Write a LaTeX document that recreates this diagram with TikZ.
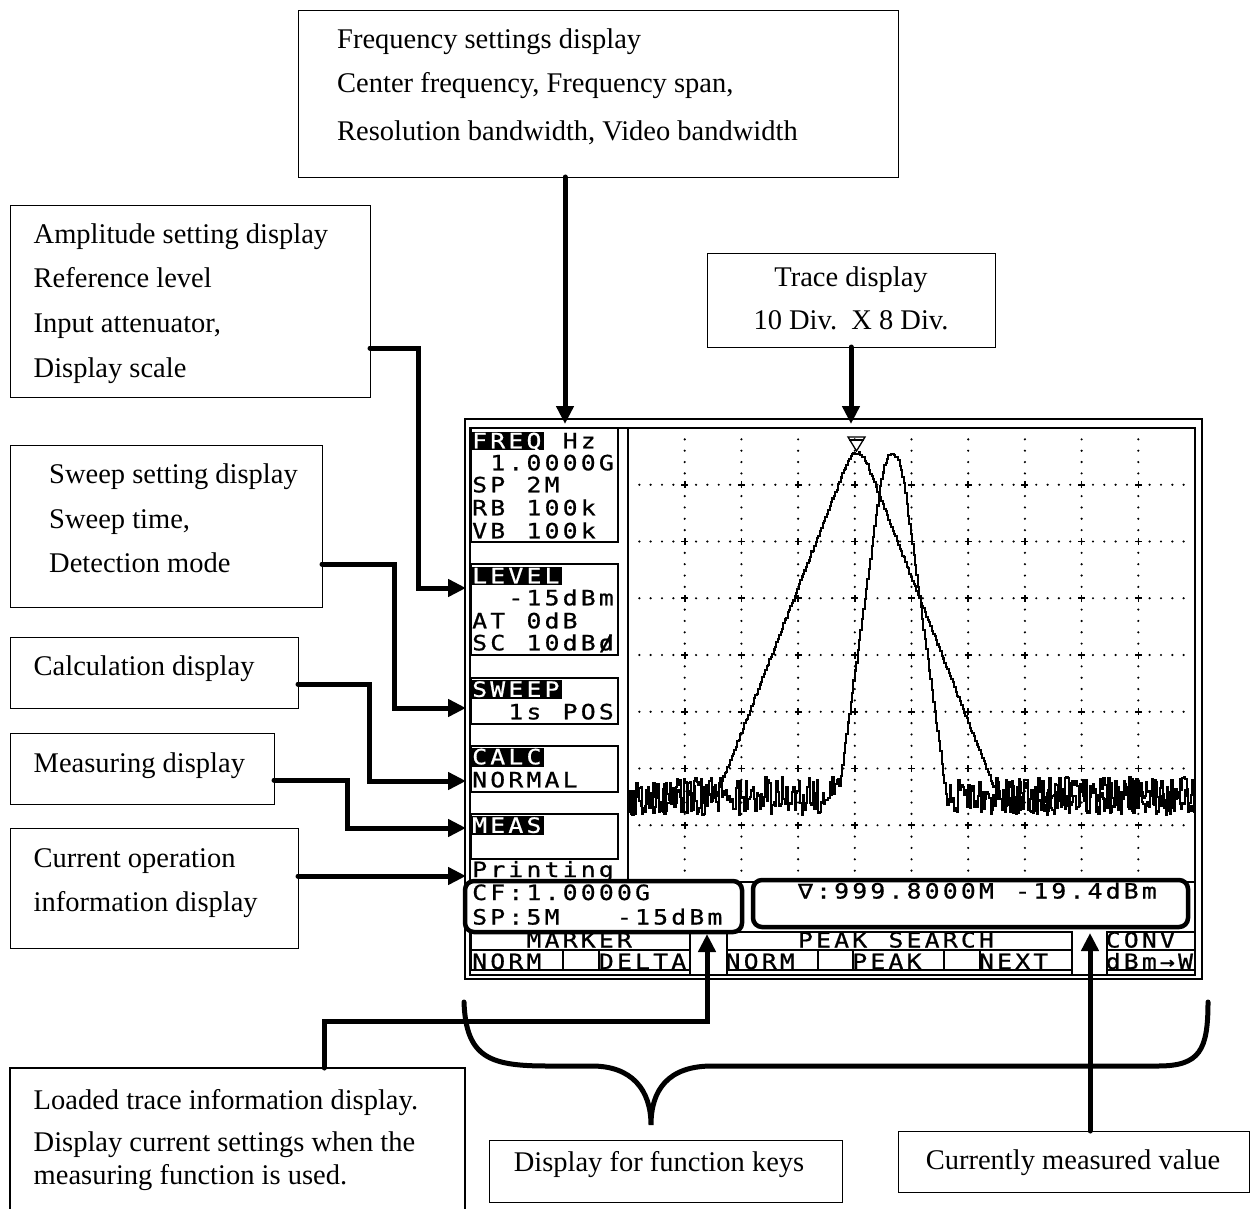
\documentclass[tikz,border=0pt]{standalone}
\usepackage{fontspec}
\setmainfont{Liberation Serif}
\newfontfamily\lcdfont[FakeStretch=1.18,FakeBold=0.8]{DejaVu Sans Mono}
\usetikzlibrary{arrows.meta}
\makeatletter
\def\lcdstr#1{\lcd@loop#1\relax}
\def\lcd@loop#1{\ifx\relax#1\else\makebox[18.1pt][l]{#1}\expandafter\lcd@loop\fi}
\makeatother
\begin{document}
\begin{tikzpicture}[x=1pt,y=-1pt,
  cbox/.style={draw,line width=1.3pt,anchor=north west,inner sep=0pt},
  txt/.style={anchor=base west,inner sep=0pt,font=\fontsize{28.5}{34}\selectfont},
  ctxt/.style={anchor=base,inner sep=0pt,font=\fontsize{28.5}{34}\selectfont},
  lcd/.style={anchor=base west,inner sep=0pt,font=\lcdfont\fontsize{21}{21}\selectfont},
  inv/.style={lcd,text=white},
  conn/.style={line width=5pt,line cap=round,-{Triangle[length=18pt,width=17pt]}},
  frm/.style={line width=1.5pt},
  cell/.style={line width=1.3pt},
  trc/.style={line width=2.1pt,line join=miter},
  rbox/.style={line width=4.5pt,rounded corners=9pt},
  declare function={
    hA(\w)=0.1084*min(\w,11.76)^2+2.55*max(\w-11.76,0);
    hB(\w)=32*(min(\w,12)/12)^2+7.4*max(\w-12,0);
    trA(\x)=min(453+hA(abs(\x-856.5))+1.5*rand,796+19*rand);
    trB(\x)=min(453+hB(abs(\x-892))+1.5*rand,796+19*rand);
  }
]
\useasboundingbox (0,0) rectangle (1252,1209);
\fill[white] (0,0) rectangle (1252,1209);

% ---------------- callout boxes ----------------
\node[cbox,minimum width=600pt,minimum height=167pt] (freqbox) at (298,10) {};
\node[txt] (freqt1) at (337,48.5) {Frequency settings display};
\node[txt] (freqt2) at (337,92.5) {Center frequency, Frequency span,};
\node[txt] (freqt3) at (337,140.5) {Resolution bandwidth, Video bandwidth};

\node[cbox,minimum width=360pt,minimum height=192pt] (ampbox) at (10,205) {};
\node[txt] (ampt1) at (33.5,243) {Amplitude setting display};
\node[txt] (ampt2) at (33.5,287) {Reference level};
\node[txt] (ampt3) at (33.5,332) {Input attenuator,};
\node[txt] (ampt4) at (33.5,377) {Display scale};

\node[cbox,minimum width=312pt,minimum height=162pt] (swbox) at (10,445) {};
\node[txt] (swt1) at (49,483) {Sweep setting display};
\node[txt] (swt2) at (49,528) {Sweep time,};
\node[txt] (swt3) at (49,572) {Detection mode};

\node[cbox,minimum width=288pt,minimum height=71pt] (calcbox) at (10,637) {};
\node[txt] (calct) at (33.5,675) {Calculation display};

\node[cbox,minimum width=264pt,minimum height=71pt] (measbox) at (10,733) {};
\node[txt] (meast) at (33.5,772) {Measuring display};

\node[cbox,minimum width=288pt,minimum height=120pt] (curbox) at (10,828) {};
\node[txt] (curt1) at (33.5,867) {Current operation};
\node[txt] (curt2) at (33.5,911) {information display};

\node[cbox,minimum width=288pt,minimum height=94pt] (trbox) at (707,253) {};
\node[ctxt] (trt1) at (851,286) {Trace display};
\node[ctxt] (trt2) at (851,329) {10 Div.\ \ X 8 Div.};

\draw[line width=1.3pt] (10,1209) -- (10,1068) -- (465,1068) -- (465,1209);
\node[txt] (ldt1) at (33.5,1109) {Loaded trace information display.};
\node[txt] (ldt2) at (33.5,1151) {Display current settings when the};
\node[txt] (ldt3) at (33.5,1184) {measuring function is used.};

\node[cbox,minimum width=353pt,minimum height=62pt] (fkbox) at (489,1140) {};
\node[ctxt] (fkt) at (659,1171) {Display for function keys};

\node[cbox,minimum width=351pt,minimum height=61pt] (mvbox) at (898,1131) {};
\node[ctxt] (mvt) at (1073,1169) {Currently measured value};

% ---------------- screen frame ----------------
\draw[frm] (465,419) rectangle (1202,979);
\draw[frm] (470,428) rectangle (1195,975);

% grid dots
\foreach \i in {1,...,9}{
  \foreach \k in {1,...,39}{
    \fill ({628+\i*56.7},{428+\k*11.35}) circle (1.2);
  }
}
\foreach \j in {1,...,7}{
  \foreach \k in {1,...,49}{
    \fill ({628+\k*11.34},{428+\j*56.75}) circle (1.2);
  }
}
\foreach \i in {1,...,9}{
  \foreach \j in {1,...,7}{
    \draw[line width=1.6pt] ({628+\i*56.7-3.5},{428+\j*56.75}) -- ++(7,0)
      ({628+\i*56.7},{428+\j*56.75-3.5}) -- ++(0,7);
  }
}
\draw[cell] (628,428) rectangle (1195,882);

% traces
\pgfmathsetseed{20240}
\draw[trc] (628,{trB(628)}) \foreach \x in {629.4,630.8,...,1195}{ -| (\x,{trB(\x)}) };
\draw[trc] (628,{trA(628)}) \foreach \x in {629.4,630.8,...,1195}{ -| (\x,{trA(\x)}) };
% marker
\draw[line width=1.3pt] (848,437) -- (865,437) -- (856.5,451) -- cycle;
\draw[line width=1.3pt] (849,440) -- (864,440);

% left panel boxes
\draw[cell] (471,428) rectangle (618,542);
\draw[cell] (471,564) rectangle (618,655);
\draw[cell] (471,678) rectangle (618,724);
\draw[cell] (471,746) rectangle (618,792);
\draw[cell] (471,814) rectangle (618,859);
\fill (471,432) rectangle (544,450);
\fill (471,567) rectangle (562,585);
\fill (471,680) rectangle (562,699);
\fill (471,748) rectangle (544,767);
\fill (471,816) rectangle (544,835);

\node[inv] (l1) at (472,448.3) {\lcdstr{FREQ}};
\node[lcd] (l2) at (562.5,448.3) {\lcdstr{Hz}};
\node[lcd] (l3) at (490.1,470.3) {\lcdstr{1.0000G}};
\node[lcd] (l4) at (472,492.3) {\lcdstr{SP~2M}};
\node[lcd] (l5) at (472,515.3) {\lcdstr{RB~100k}};
\node[lcd] (l6) at (472,538.3) {\lcdstr{VB~100k}};
\node[inv] (l7) at (472,583.3) {\lcdstr{LEVEL}};
\node[lcd] (l8) at (508.2,605.3) {\lcdstr{-15dBm}};
\node[lcd] (l9) at (472,628.3) {\lcdstr{AT~0dB}};
\node[lcd] (l10) at (472,650.3) {\lcdstr{SC~10dB{\rlap{/}d}}};
\node[inv] (l11) at (472,696.8) {\lcdstr{SWEEP}};
\node[lcd] (l12) at (508.2,719.3) {\lcdstr{1s~POS}};
\node[inv] (l13) at (472,764.3) {\lcdstr{CALC}};
\node[lcd] (l14) at (472,787.3) {\lcdstr{NORMAL}};
\node[inv] (l15) at (472,832.8) {\lcdstr{MEAS}};
\node[lcd] (l16) at (472,877) {\lcdstr{Printing}};

% info boxes
\draw[rbox,fill=white] (465,881) rectangle (742,932);
\draw[rbox,fill=white] (753,880) rectangle (1188,927);
\node[lcd] (l17) at (472,900) {\lcdstr{CF:1.0000G}};
\node[lcd] (l18) at (472,924.5) {\lcdstr{SP:5M~~~-15dBm}};
\node[lcd] (l19) at (797.8,898.5) {\lcdstr{∇:999.8000M~-19.4dBm}};

% function key cells
\draw[cell] (471,932) rectangle (690,950) (727,932) rectangle (1072,950) (1107,932) rectangle (1195,950);
\draw[cell] (471,950) rectangle (690,970) (727,950) rectangle (1072,970) (1107,950) rectangle (1195,970);
\foreach \xx in {563,599,818,853,944,980}{ \draw[cell] (\xx,950) -- (\xx,970); }
\draw[cell] (690,932) -- (690,975) (727,932) -- (727,975) (1072,932) -- (1072,975) (1107,932) -- (1107,975);
\node[lcd] (k1) at (526.3,947.5) {\lcdstr{MARKER}};
\node[lcd] (k2) at (797.8,947.5) {\lcdstr{PEAK~SEARCH}};
\node[lcd] (k3) at (1105.5,947.5) {\lcdstr{CONV}};
\node[lcd] (k4) at (472,969) {\lcdstr{NORM}};
\node[lcd] (k5) at (598.7,969) {\lcdstr{DELTA}};
\node[lcd] (k6) at (725.4,969) {\lcdstr{NORM}};
\node[lcd] (k7) at (852.1,969) {\lcdstr{PEAK}};
\node[lcd] (k8) at (978.8,969) {\lcdstr{NEXT}};
\node[lcd] (k9) at (1105.5,969) {\lcdstr{dBm→W}};

% ---------------- connectors ----------------
\coordinate (fA) at (565,177);   \coordinate (fB) at (565,424);
\coordinate (tA) at (851,347);   \coordinate (tB) at (851,424);
\coordinate (aA) at (370,348);   \coordinate (aB) at (466,588);
\coordinate (sA) at (322,564);   \coordinate (sB) at (466,708);
\coordinate (cA) at (298,684);   \coordinate (cB) at (466,781);
\coordinate (mA) at (274,780);   \coordinate (mB) at (466,828);
\coordinate (oA) at (298,876);   \coordinate (oB) at (466,876);
\coordinate (dA) at (324,1068);  \coordinate (dB) at (707,934);
\coordinate (vA) at (1090,1131); \coordinate (vB) at (1090,933);

\draw[conn] (fA) -- (fB);
\draw[conn] (tA) -- (tB);
\draw[conn] (aA) -- (418,348) -- (418,588) -- (aB);
\draw[conn] (sA) -- (394,564) -- (394,708) -- (sB);
\draw[conn] (cA) -- (369,684) -- (369,781) -- (cB);
\draw[conn] (mA) -- (347,780) -- (347,828) -- (mB);
\draw[conn] (oA) -- (oB);
\draw[conn] (dA) -- (324,1021) -- (707,1021) -- (dB);
\draw[conn] (vA) -- (vB);

% brace
\draw[line width=5pt,line cap=round] (464,1002) .. controls (466,1058) and (490,1066) .. (548,1066)
  -- (592,1066) .. controls (632,1066) and (651,1090) .. (651,1125)
  .. controls (651,1090) and (668,1066) .. (712,1066)
  -- (1158,1066) .. controls (1200,1066) and (1208,1050) .. (1208,1002);
\end{tikzpicture}
\end{document}
